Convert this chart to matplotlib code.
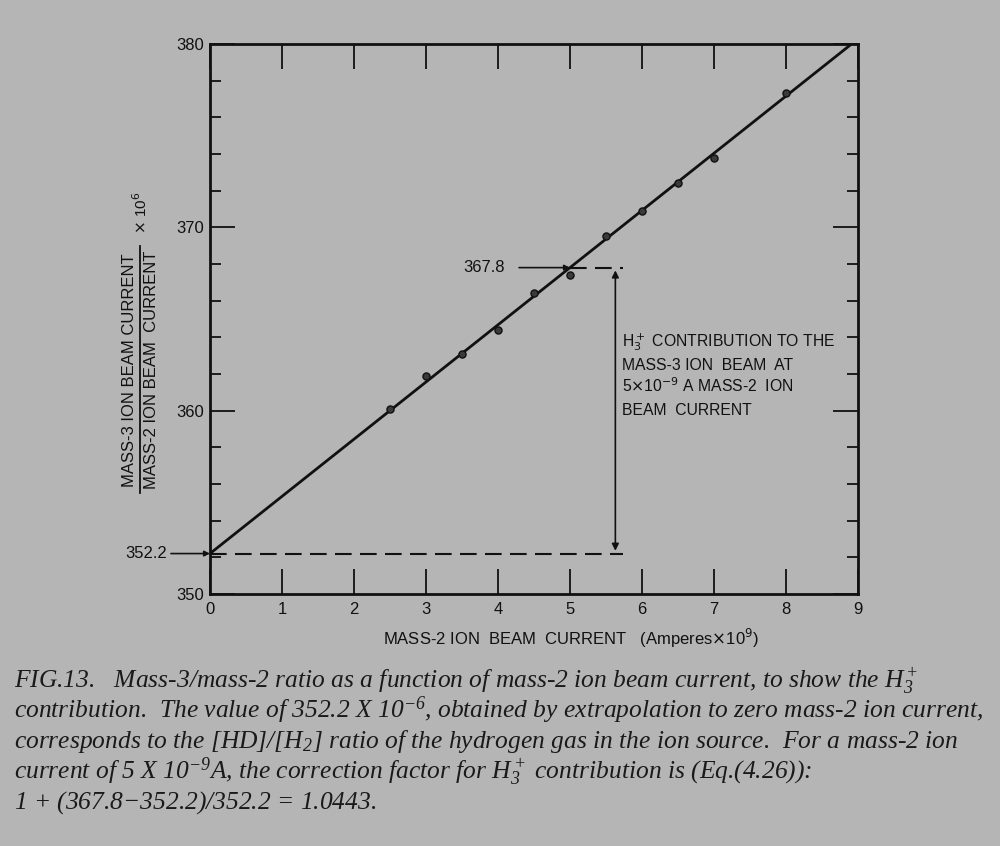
import matplotlib
matplotlib.use('Agg')
import matplotlib.pyplot as plt
import numpy as np

# data
current = [2.5, 3.0, 3.5, 4.0, 4.5, 5.0, 5.5, 6.0, 6.5, 7.0, 8.0]
ratio = [360.1, 361.9, 363.1, 364.4, 366.4, 367.4, 369.5, 370.9, 372.4, 373.8, 377.3]
intercept = 352.2
value_at_5 = 367.8
x_ticks = [0, 1, 2, 3, 4, 5, 6, 7, 8, 9]
y_major = [350, 360, 370, 380]
y_minor = [352, 354, 356, 358, 362, 364, 366, 368, 372, 374, 376, 378]

note_lines = ['H$_3^+$ CONTRIBUTION TO THE', 'MASS-3 ION  BEAM  AT',
              '5$\\times$10$^{-9}$ A MASS-2  ION', 'BEAM  CURRENT']
caption_lines = [
    'FIG.13.   Mass-3/mass-2 ratio as a function of mass-2 ion beam current, to show the H$_3^+$',
    'contribution.  The value of 352.2 X 10$^{-6}$, obtained by extrapolation to zero mass-2 ion current,',
    'corresponds to the [HD]/[H$_2$] ratio of the hydrogen gas in the ion source.  For a mass-2 ion',
    'current of 5 X 10$^{-9}$A, the correction factor for H$_3^+$ contribution is (Eq.(4.26)):',
    '1 + (367.8$-$352.2)/352.2 = 1.0443.',
]

bg = '#b5b5b5'
ink = '#111111'
plt.rcParams['font.family'] = ['Liberation Sans', 'DejaVu Sans']

fig = plt.figure(figsize=(10, 8.46), dpi=100, facecolor=bg)
ax = fig.add_axes([0.21, 0.298, 0.648, 0.650], facecolor=bg)

# fitted line through the intercept and the 5 nA point
slope = (value_at_5 - intercept) / 5.0
xl = np.array([0, 9])
ax.plot(xl, intercept + slope * xl, color=ink, lw=2)
ax.scatter(current, ratio, s=26, color='#3a3a3a', edgecolor=ink, linewidth=1, zorder=3)

# dashed guides
xa = 5.63
ax.plot([0, xa + 0.1], [intercept, intercept], color=ink, lw=1.5, dashes=(8, 4))
ax.plot([5.0, xa + 0.1], [value_at_5, value_at_5], color=ink, lw=1.5, dashes=(8, 4))
ax.annotate('', xy=(xa, value_at_5), xytext=(xa, intercept),
            arrowprops=dict(arrowstyle='<|-|>', color=ink, lw=1.2, mutation_scale=10))

# value labels with arrows
ax.annotate('352.2', xy=(0, intercept), xytext=(-0.6, intercept), annotation_clip=False,
            fontsize=12, va='center', ha='right', color=ink,
            arrowprops=dict(arrowstyle='-|>', color=ink, lw=1.2, mutation_scale=8, shrinkA=1, shrinkB=0))
ax.annotate('367.8', xy=(5.0, value_at_5), xytext=(4.1, value_at_5),
            fontsize=12, va='center', ha='right', color=ink,
            arrowprops=dict(arrowstyle='-|>', color=ink, lw=1.2, mutation_scale=8, shrinkA=8, shrinkB=0))

for i, line in enumerate(note_lines):
    ax.text(5.72, 363.47 - 1.23 * i, line, fontsize=11.3, va='baseline', ha='left', color=ink)

ax.set_xlim(0, 9)
ax.set_ylim(350, 380)
ax.set_xticks(x_ticks)
ax.set_yticks(y_major)
ax.set_yticks(y_minor, minor=True)
ax.tick_params(axis='both', which='major', direction='in', length=18, width=1.3,
               top=True, right=True, labelsize=12, colors=ink, pad=4)
ax.tick_params(axis='y', which='minor', direction='in', length=8, width=1.3, right=True, colors=ink)
ax.tick_params(axis='x', pad=6)
for s in ax.spines.values():
    s.set_linewidth(2)
    s.set_color(ink)

ax.set_xlabel('MASS-2 ION  BEAM  CURRENT   (Amperes$\\times$10$^9$)', fontsize=12, color=ink)
ax.xaxis.set_label_coords(0.557, -0.06)

# y label as a fraction
fig.text(0.1375, 0.563, 'MASS-3 ION BEAM CURRENT', rotation=90, ha='right', va='center', fontsize=12, color=ink)
fig.text(0.1435, 0.563, 'MASS-2 ION BEAM  CURRENT', rotation=90, ha='left', va='center', fontsize=12, color=ink)
fig.add_artist(plt.Line2D([0.1395, 0.1395], [0.417, 0.709], color=ink, lw=1.3))
fig.text(0.141, 0.748, '$\\times$ 10$^6$', rotation=90, ha='center', va='center', fontsize=11, color=ink)

# caption below the chart
plt.rcParams['mathtext.fontset'] = 'custom'
plt.rcParams['mathtext.rm'] = 'Liberation Serif:italic'
plt.rcParams['mathtext.it'] = 'Liberation Serif:italic'
for i, line in enumerate(caption_lines):
    fig.text(0.014, 1 - (687 + 30.5 * i) / 846, line, ha='left', va='baseline', fontsize=18.4,
             color='#1a1a1a', family='Liberation Serif', style='italic')

fig.savefig('out.png', dpi=100, facecolor=bg)
